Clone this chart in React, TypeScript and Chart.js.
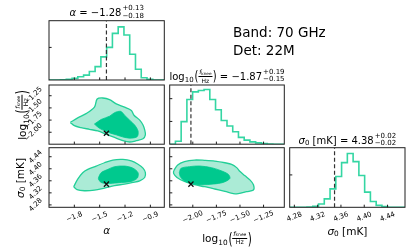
import React, { useEffect, useRef } from 'react';
import { Chart, registerables } from 'chart.js';

Chart.register(...registerables);

const W = 411;
const H = 251;
const FONT = "'DejaVu Sans', sans-serif";

// ---- layout (plot-area edges in px) ----
const COL_X: [number, number][] = [[49, 164.3], [169.7, 284.3], [289.7, 405]];
const ROW_Y: [number, number][] = [[20.7, 80], [85, 144.2], [147.7, 207.3]];
const X_LABEL_ROT = 22;
const Y_LABEL_ROT = 45;
const X_LABEL_DY = 9.7;
const Y_LABEL_GAP = 6;
const TICK_FONT = 7;

// ---- data ----
const ALPHA_RANGE = [-2.1, -0.735];
const FKNEE_RANGE = [-2.245, -1.03];
const SIGMA_RANGE = [4.272, 4.47];

const ALPHA_TICKS = [-1.8, -1.5, -1.2, -0.9];
const ALPHA_TICK_LABELS = ['−1.8', '−1.5', '−1.2', '−0.9'];
const FKNEE_TICKS = [-2.0, -1.75, -1.5, -1.25];
const FKNEE_TICK_LABELS = ['−2.00', '−1.75', '−1.50', '−1.25'];
const SIGMA_TICKS = [4.28, 4.32, 4.36, 4.4, 4.44];
const SIGMA_TICK_LABELS = ['4.28', '4.32', '4.36', '4.40', '4.44'];

const TRUTH_ALPHA = -1.42;
const TRUTH_FKNEE = -2.02;
const TRUTH_SIGMA = 4.349;

// 20-bin histograms spanning each axis range
const ALPHA_HIST = [0, 0, 0.005, 0.02, 0.05, 0.1, 0.15, 0.26, 0.41, 0.71, 1.0, 1.43, 1.63, 1.38, 0.79, 0.33, 0.07, 0.02, 0, 0];
const FKNEE_HIST = [0, 0.13, 0.99, 1.96, 2.3, 2.36, 2.4, 1.96, 1.51, 1.04, 0.8, 0.55, 0.3, 0.18, 0.1, 0.06, 0.03, 0.01, 0, 0];
const SIGMA_HIST = [0, 0, 0, 0.01, 0.03, 0.1, 0.26, 0.57, 0.95, 1.38, 1.66, 1.41, 0.98, 0.47, 0.18, 0.06, 0.02, 0, 0, 0];
const ALPHA_HIST_MAX = 1.82;
const FKNEE_HIST_MAX = 2.6;
const SIGMA_HIST_MAX = 1.84;
const ALPHA_HIST_TICKS = [1];
const FKNEE_HIST_TICKS = [1, 2];
const SIGMA_HIST_TICKS = [1];

// contours: [x, y]
const AF_OUTER: [number, number][] = [[-1.848, -1.799], [-1.76, -1.705], [-1.661, -1.618], [-1.562, -1.484], [-1.53, -1.317], [-1.463, -1.297], [-1.383, -1.33], [-1.304, -1.417], [-1.205, -1.484], [-1.125, -1.551], [-1.094, -1.651], [-1.026, -1.752], [-0.987, -1.852], [-0.967, -1.952], [-0.959, -2.053], [-0.987, -2.133], [-1.066, -2.173], [-1.145, -2.2], [-1.225, -2.173], [-1.324, -2.106], [-1.423, -2.04], [-1.522, -1.973], [-1.621, -1.939], [-1.721, -1.906], [-1.8, -1.865]];
const AF_INNER: [number, number][] = [[-1.562, -1.832], [-1.483, -1.738], [-1.383, -1.671], [-1.324, -1.598], [-1.252, -1.571], [-1.205, -1.651], [-1.145, -1.752], [-1.086, -1.852], [-1.046, -1.973], [-1.054, -2.086], [-1.117, -2.12], [-1.205, -2.106], [-1.304, -2.053], [-1.403, -1.999], [-1.502, -1.919]];
const AS_OUTER: [number, number][] = [[-1.808, 4.34], [-1.76, 4.3655], [-1.701, 4.387], [-1.641, 4.398], [-1.542, 4.409], [-1.443, 4.42], [-1.344, 4.429], [-1.225, 4.431], [-1.125, 4.426], [-1.046, 4.415], [-0.987, 4.402], [-0.959, 4.387], [-0.967, 4.371], [-1.026, 4.36], [-1.106, 4.3545], [-1.205, 4.349], [-1.324, 4.344], [-1.443, 4.336], [-1.562, 4.329], [-1.681, 4.327], [-1.768, 4.3305]];
const AS_INNER: [number, number][] = [[-1.514, 4.371], [-1.483, 4.387], [-1.403, 4.398], [-1.324, 4.407], [-1.205, 4.409], [-1.106, 4.402], [-1.046, 4.387], [-1.054, 4.369], [-1.125, 4.358], [-1.244, 4.3545], [-1.344, 4.352], [-1.423, 4.351], [-1.483, 4.3545], [-1.514, 4.3655]];
const FS_OUTER: [number, number][] = [[-2.203, 4.393], [-2.16, 4.4126], [-2.089, 4.4235], [-1.982, 4.429], [-1.875, 4.428], [-1.767, 4.4257], [-1.66, 4.42], [-1.589, 4.4148], [-1.535, 4.4038], [-1.499, 4.3907], [-1.446, 4.3765], [-1.392, 4.3623], [-1.357, 4.347], [-1.357, 4.3295], [-1.428, 4.324], [-1.535, 4.3164], [-1.66, 4.325], [-1.767, 4.3328], [-1.875, 4.3404], [-1.982, 4.347], [-2.089, 4.358], [-2.168, 4.371], [-2.203, 4.3842]];
const FS_INNER: [number, number][] = [[-2.143, 4.3874], [-2.125, 4.4016], [-2.035, 4.4071], [-1.928, 4.4093], [-1.803, 4.4038], [-1.714, 4.3951], [-1.625, 4.382], [-1.607, 4.3678], [-1.678, 4.3547], [-1.785, 4.3492], [-1.91, 4.347], [-2.017, 4.3514], [-2.089, 4.36], [-2.132, 4.3732]];

// ---- styles ----
const HIST_COLOR = '#34d6a3';
const LIGHT = '#abebd6';
const DARK = '#00c98e';
const EDGE = '#22cf97';
const INK = '#1e1e1e';

function makeFramePlugin(xLabels: string[] | null, yLabels: string[] | null) {
  return {
    id: 'frame',
    afterDatasetsDraw(chart: any) {
      const { ctx, chartArea: a, scales } = chart;
      ctx.save();
      ctx.strokeStyle = INK;
      ctx.lineWidth = 1;
      ctx.beginPath();
      const tl = 2.6;
      scales.x.ticks.forEach((t: any) => {
        const px = scales.x.getPixelForValue(t.value);
        ctx.moveTo(px, a.bottom);
        ctx.lineTo(px, a.bottom - tl);
      });
      scales.y.ticks.forEach((t: any) => {
        const py = scales.y.getPixelForValue(t.value);
        ctx.moveTo(a.left, py);
        ctx.lineTo(a.left + tl, py);
      });
      ctx.stroke();
      ctx.strokeRect(a.left, a.top, a.right - a.left, a.bottom - a.top);

      // rotated tick labels, positioned from the scales
      ctx.fillStyle = '#000';
      ctx.font = `${TICK_FONT}px ${FONT}`;
      ctx.textAlign = 'center';
      ctx.textBaseline = 'middle';
      if (xLabels) {
        const rot = (-X_LABEL_ROT * Math.PI) / 180;
        scales.x.ticks.forEach((t: any, i: number) => {
          const px = scales.x.getPixelForValue(t.value);
          ctx.save();
          ctx.translate(px, a.bottom + X_LABEL_DY);
          ctx.rotate(rot);
          ctx.fillText(xLabels[i], 0, 0);
          ctx.restore();
        });
      }
      if (yLabels) {
        const th = (Y_LABEL_ROT * Math.PI) / 180;
        const hTxt = TICK_FONT * 0.75;
        scales.y.ticks.forEach((t: any, i: number) => {
          const py = scales.y.getPixelForValue(t.value);
          const w = ctx.measureText(yLabels[i]).width;
          const bw = w * Math.cos(th) + hTxt * Math.sin(th);
          ctx.save();
          ctx.translate(a.left - Y_LABEL_GAP - bw / 2, py);
          ctx.rotate(-th);
          ctx.fillText(yLabels[i], 0, 0);
          ctx.restore();
        });
      }
      ctx.restore();
    },
  };
}

function axisOpts(axis: 'x' | 'y', range: number[], ticks: number[]) {
  return {
    type: 'linear',
    min: range[0],
    max: range[1],
    grid: { display: false, drawTicks: false },
    border: { display: false },
    afterBuildTicks: (s: any) => {
      s.ticks = ticks.map((v) => ({ value: v }));
    },
    afterFit: (s: any) => {
      if (axis === 'x') s.height = 0;
      else s.width = 0;
    },
    ticks: { display: false, autoSkip: false },
  };
}

function histPoints(range: number[], counts: number[]) {
  const w = (range[1] - range[0]) / counts.length;
  const pts = counts.map((c, i) => ({ x: range[0] + i * w, y: c }));
  pts.push({ x: range[1], y: counts[counts.length - 1] });
  return pts;
}

function closed(pts: [number, number][]) {
  const p = pts.map(([x, y]) => ({ x, y }));
  p.push({ x: pts[0][0], y: pts[0][1] });
  return p;
}

function histDatasets(range: number[], counts: number[], truth: number, ymax: number) {
  return [
    {
      data: [{ x: truth, y: 0 }, { x: truth, y: ymax }],
      showLine: true, borderColor: '#333', borderWidth: 1.2, borderDash: [4, 2.5], pointRadius: 0,
    },
    {
      data: histPoints(range, counts),
      showLine: true, stepped: true, borderColor: HIST_COLOR, borderWidth: 1.6, pointRadius: 0, fill: false,
    },
  ];
}

function contourDatasets(outer: [number, number][], inner: [number, number][], tx: number, ty: number) {
  return [
    {
      data: [{ x: tx, y: ty }],
      pointStyle: 'crossRot', pointRadius: 3.6, pointBorderWidth: 1.3, pointBorderColor: '#111', borderColor: '#111', showLine: false,
    },
    {
      data: closed(inner),
      showLine: true, fill: 'shape', backgroundColor: DARK, borderColor: DARK, borderWidth: 0.8, tension: 0.3, pointRadius: 0,
    },
    {
      data: closed(outer),
      showLine: true, fill: 'shape', backgroundColor: LIGHT, borderColor: EDGE, borderWidth: 1.3, tension: 0.3, pointRadius: 0,
    },
  ];
}

type PanelCfg = {
  col: number; row: number;
  xRange: number[]; xTicks: number[]; xLabels: string[] | null;
  yRange: number[]; yTicks: number[]; yLabels: string[] | null;
  datasets: any[];
};

function Panel({ cfg }: { cfg: PanelCfg }) {
  const ref = useRef<HTMLCanvasElement>(null);
  useEffect(() => {
    const [l, r] = COL_X[cfg.col];
    const [t, b] = ROW_Y[cfg.row];
    const chart = new Chart(ref.current as HTMLCanvasElement, {
      type: 'scatter',
      data: { datasets: cfg.datasets },
      options: {
        animation: false,
        responsive: false,
        events: [],
        layout: { padding: { left: l, top: t, right: W - r, bottom: H - b } },
        plugins: { legend: { display: false }, tooltip: { enabled: false } },
        scales: {
          x: axisOpts('x', cfg.xRange, cfg.xTicks),
          y: axisOpts('y', cfg.yRange, cfg.yTicks),
        },
      } as any,
      plugins: [makeFramePlugin(cfg.xLabels, cfg.yLabels)],
    });
    return () => chart.destroy();
  }, []);
  return <canvas ref={ref} width={W} height={H} style={{ position: 'absolute', left: 0, top: 0 }} />;
}

function LogLabel({ s }: { s: number }) {
  const paren = { display: 'inline-block', transform: 'scaleY(1.45)', lineHeight: 1 } as React.CSSProperties;
  return (
    <span style={{ display: 'inline-flex', alignItems: 'center', lineHeight: 1, fontSize: s }}>
      <span>
        log<span style={{ fontSize: s * 0.7, position: 'relative', top: s * 0.25 }}>10</span>
      </span>
      <span style={{ ...paren, marginLeft: s * 0.08 }}>(</span>
      <span style={{ display: 'inline-flex', flexDirection: 'column', alignItems: 'center', fontSize: s * 0.6, lineHeight: 1.05 }}>
        <span style={{ borderBottom: `${Math.max(0.7, s * 0.06)}px solid #000`, padding: `0 ${s * 0.08}px ${s * 0.05}px` }}>
          <i>f</i>
          <span style={{ fontSize: s * 0.42, position: 'relative', top: s * 0.06 }}>knee</span>
        </span>
        <span style={{ paddingTop: s * 0.05 }}>Hz</span>
      </span>
      <span style={{ ...paren, marginLeft: s * 0.05 }}>)</span>
    </span>
  );
}

function SigmaLabel() {
  return (
    <span>
      <i>σ</i>
      <span style={{ fontSize: '0.7em', position: 'relative', top: '0.2em' }}>0</span> [mK]
    </span>
  );
}

function Title({ cx, top, value, plus, minus, children }: any) {
  return (
    <div style={{ position: 'absolute', left: cx, top, transform: 'translateX(-50%)', display: 'flex', alignItems: 'baseline', fontSize: 10, lineHeight: 1, whiteSpace: 'nowrap' }}>
      {children}
      <span>&nbsp;=&nbsp;{value}</span>
      <span style={{ display: 'inline-flex', flexDirection: 'column', fontSize: 7, lineHeight: '7.6px', position: 'relative', top: -6, marginLeft: 1 }}>
        <span>{plus}</span>
        <span>{minus}</span>
      </span>
    </div>
  );
}

export default function App() {
  const panels: PanelCfg[] = [
    { col: 0, row: 0, xRange: ALPHA_RANGE, xTicks: ALPHA_TICKS, xLabels: null, yRange: [0, ALPHA_HIST_MAX], yTicks: ALPHA_HIST_TICKS, yLabels: null, datasets: histDatasets(ALPHA_RANGE, ALPHA_HIST, TRUTH_ALPHA, ALPHA_HIST_MAX) },
    { col: 0, row: 1, xRange: ALPHA_RANGE, xTicks: ALPHA_TICKS, xLabels: null, yRange: FKNEE_RANGE, yTicks: FKNEE_TICKS, yLabels: FKNEE_TICK_LABELS, datasets: contourDatasets(AF_OUTER, AF_INNER, TRUTH_ALPHA, TRUTH_FKNEE) },
    { col: 0, row: 2, xRange: ALPHA_RANGE, xTicks: ALPHA_TICKS, xLabels: ALPHA_TICK_LABELS, yRange: SIGMA_RANGE, yTicks: SIGMA_TICKS, yLabels: SIGMA_TICK_LABELS, datasets: contourDatasets(AS_OUTER, AS_INNER, TRUTH_ALPHA, TRUTH_SIGMA) },
    { col: 1, row: 1, xRange: FKNEE_RANGE, xTicks: FKNEE_TICKS, xLabels: null, yRange: [0, FKNEE_HIST_MAX], yTicks: FKNEE_HIST_TICKS, yLabels: null, datasets: histDatasets(FKNEE_RANGE, FKNEE_HIST, TRUTH_FKNEE, FKNEE_HIST_MAX) },
    { col: 1, row: 2, xRange: FKNEE_RANGE, xTicks: FKNEE_TICKS, xLabels: FKNEE_TICK_LABELS, yRange: SIGMA_RANGE, yTicks: SIGMA_TICKS, yLabels: null, datasets: contourDatasets(FS_OUTER, FS_INNER, TRUTH_FKNEE, TRUTH_SIGMA) },
    { col: 2, row: 2, xRange: SIGMA_RANGE, xTicks: SIGMA_TICKS, xLabels: SIGMA_TICK_LABELS, yRange: [0, SIGMA_HIST_MAX], yTicks: SIGMA_HIST_TICKS, yLabels: null, datasets: histDatasets(SIGMA_RANGE, SIGMA_HIST, TRUTH_SIGMA, SIGMA_HIST_MAX) },
  ];

  return (
    <div style={{ position: 'absolute', left: 0, top: 0, width: W, height: H, background: '#fff', fontFamily: FONT, color: '#000', overflow: 'hidden' }}>
      {panels.map((p, i) => (
        <Panel key={i} cfg={p} />
      ))}

      <Title cx={106.7} top={8.2} value="−1.28" plus="+0.13" minus="−0.18">
        <i>α</i>
      </Title>
      <Title cx={227} top={69.4} value="−1.87" plus="+0.19" minus="−0.15">
        <LogLabel s={10} />
      </Title>
      <Title cx={347.4} top={135.5} value="4.38" plus="+0.02" minus="−0.02">
        <SigmaLabel />
      </Title>

      <div style={{ position: 'absolute', left: 106.7, top: 224.7, transform: 'translateX(-50%)', fontSize: 10.5, lineHeight: 1 }}>
        <i>α</i>
      </div>
      <div style={{ position: 'absolute', left: 227, top: 227, transform: 'translateX(-50%)', whiteSpace: 'nowrap' }}>
        <LogLabel s={10.5} />
      </div>
      <div style={{ position: 'absolute', left: 347.4, top: 225.6, transform: 'translateX(-50%)', fontSize: 10.5, lineHeight: 1, whiteSpace: 'nowrap' }}>
        <SigmaLabel />
      </div>

      <div style={{ position: 'absolute', left: 19.5, top: 114.6, transform: 'translate(-50%, -50%) rotate(-90deg)', whiteSpace: 'nowrap' }}>
        <LogLabel s={10.5} />
      </div>
      <div style={{ position: 'absolute', left: 19.5, top: 177.5, transform: 'translate(-50%, -50%) rotate(-90deg)', fontSize: 10.5, lineHeight: 1, whiteSpace: 'nowrap' }}>
        <SigmaLabel />
      </div>

      <div style={{ position: 'absolute', left: 233, top: 22.9, fontSize: 13.5, lineHeight: '18.3px', whiteSpace: 'nowrap' }}>
        Band: 70 GHz
        <br />
        Det: 22M
      </div>
    </div>
  );
}
